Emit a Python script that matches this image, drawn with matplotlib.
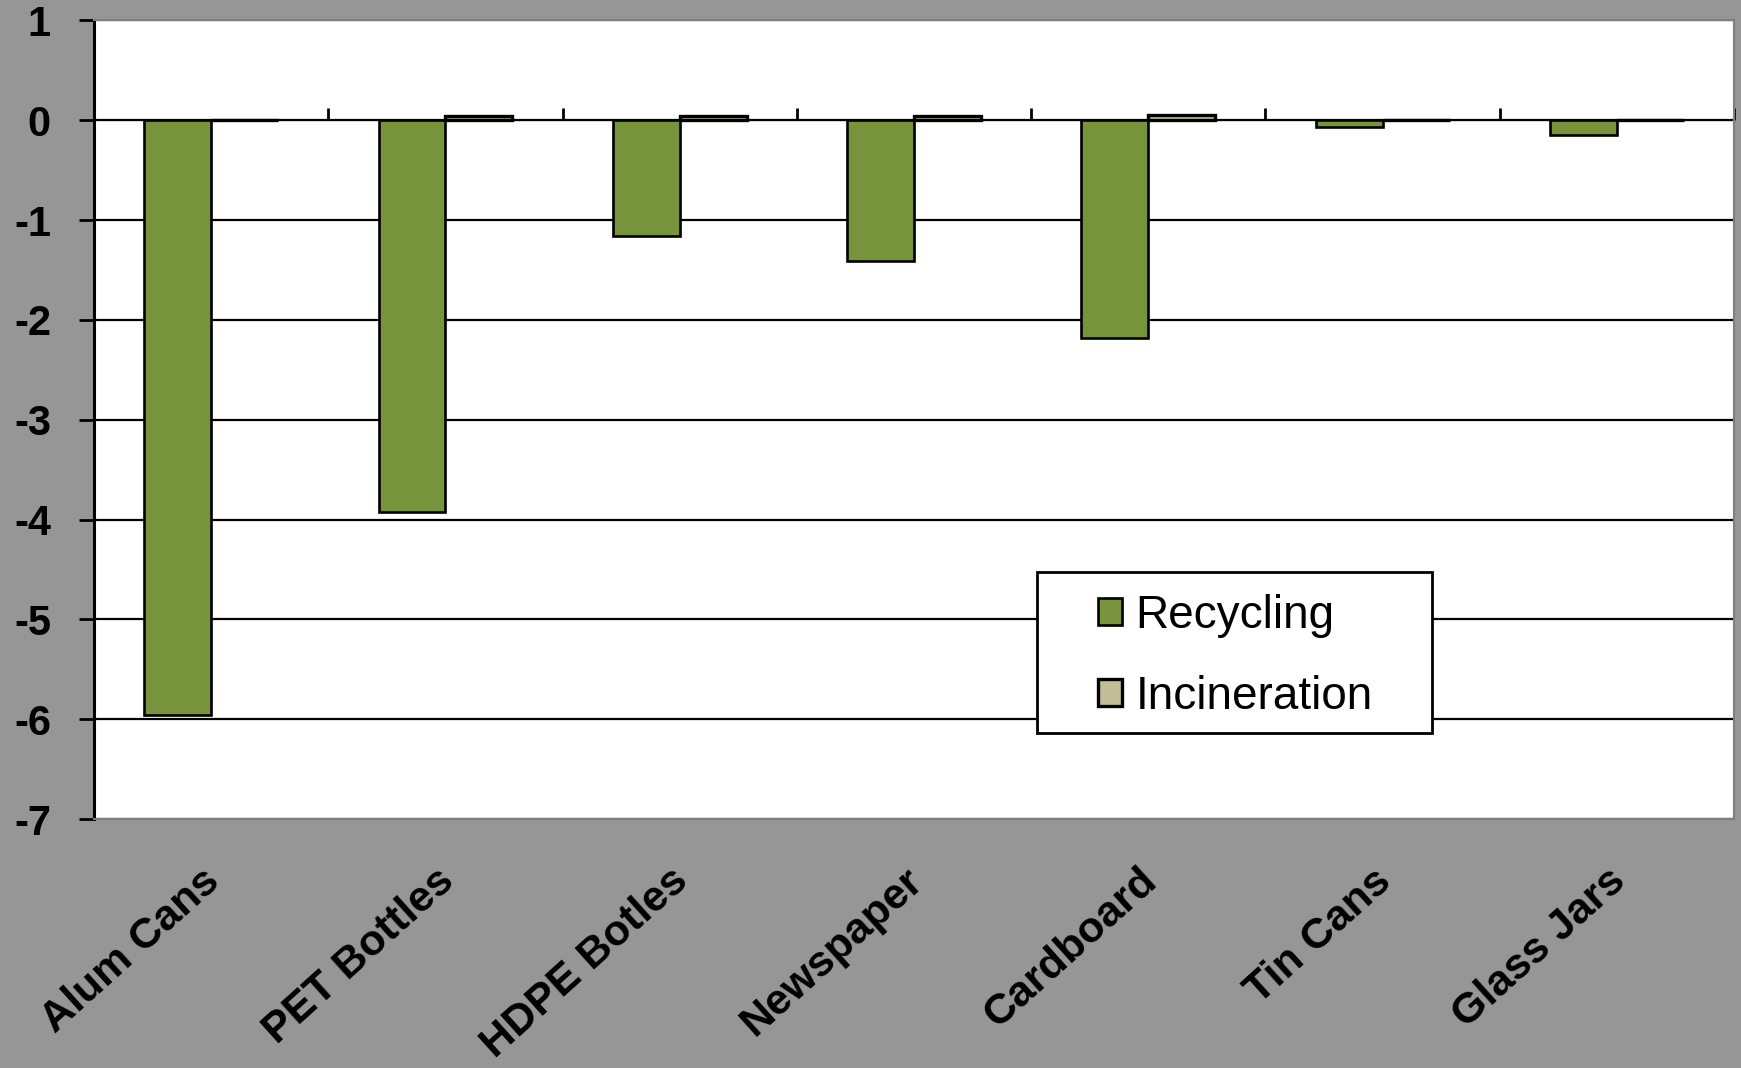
import numpy as np
import matplotlib
matplotlib.use("Agg")
import matplotlib.pyplot as plt
from matplotlib.patches import Rectangle
from matplotlib.transforms import ScaledTranslation

plt.rcParams['font.family'] = ['Liberation Sans', 'DejaVu Sans']

# data
categories = ['Alum Cans', 'PET Bottles', 'HDPE Botles', 'Newspaper',
              'Cardboard', 'Tin Cans', 'Glass Jars']
recycling = [-5.96, -3.92, -1.16, -1.41, -2.18, -0.07, -0.15]
incineration = [0.005, 0.04, 0.04, 0.04, 0.05, 0.005, 0.005]
yticks = [1, 0, -1, -2, -3, -4, -5, -6, -7]

green = '#77933C'
tan = '#C4BD97'
grey_bg = '#969696'

fig = plt.figure(figsize=(17.41, 10.68), dpi=100, facecolor=grey_bg)
ax = fig.add_axes([0.054, 0.233, 0.942, 0.748])
ax.set_facecolor('white')

x = np.arange(len(categories))
w = 1 / 3.5  # excel gap width 150
ax.bar(x - w / 2, recycling, w, color=green, edgecolor='black', linewidth=1.9,
       label='Recycling', zorder=3)
ax.bar(x + w / 2, incineration, w, color=tan, edgecolor='black', linewidth=2.4,
       label='Incineration', zorder=3)

ax.set_xlim(-0.5, len(categories) - 0.5)
ax.set_ylim(-7, 1)
ax.set_yticks(yticks)
ax.set_yticklabels([str(v) for v in yticks], fontsize=30, fontweight='bold')
ax.tick_params(axis='y', direction='out', length=11, width=2, pad=20)
ax.yaxis.grid(True, color='black', linewidth=1.6)
ax.set_axisbelow(True)

# category labels along the bottom
ax.set_xticks(x)
ax.set_xticklabels(categories, rotation=42, ha='right', fontsize=31,
                   fontweight='bold')
ax.tick_params(axis='x', length=0, pad=30)
shift = ScaledTranslation(12 / 72, 0, fig.dpi_scale_trans)
for lab in ax.get_xticklabels():
    lab.set_transform(lab.get_transform() + shift)

for side in ['top', 'right', 'bottom']:
    ax.spines[side].set_color('#7f7f7f')
    ax.spines[side].set_linewidth(1.5)
ax.spines['left'].set_linewidth(2.2)

# zero axis with tick marks between categories
zero_pos = (0 - (-7)) / 8
sec = ax.secondary_xaxis(zero_pos)
sec.set_xticks(np.arange(len(categories) + 1) - 0.5)
sec.set_xticklabels([])
sec.tick_params(direction='out', length=9, width=2)
sec.spines['bottom'].set_linewidth(2.8)
sec.spines['bottom'].set_zorder(4)

# legend box
ax.add_patch(Rectangle((0.575, 0.108), 0.241, 0.201, transform=ax.transAxes,
                       facecolor='white', edgecolor='black', linewidth=2,
                       zorder=5))
leg = ax.legend(loc='center left', bbox_to_anchor=(0.612, 0.204),
                frameon=False, fontsize=33, borderpad=0, borderaxespad=0,
                handlelength=0.52, handleheight=0.52, handletextpad=0.3,
                labelspacing=0.8)
leg.set_zorder(6)

fig.savefig('out.png', dpi=100, facecolor=grey_bg)
